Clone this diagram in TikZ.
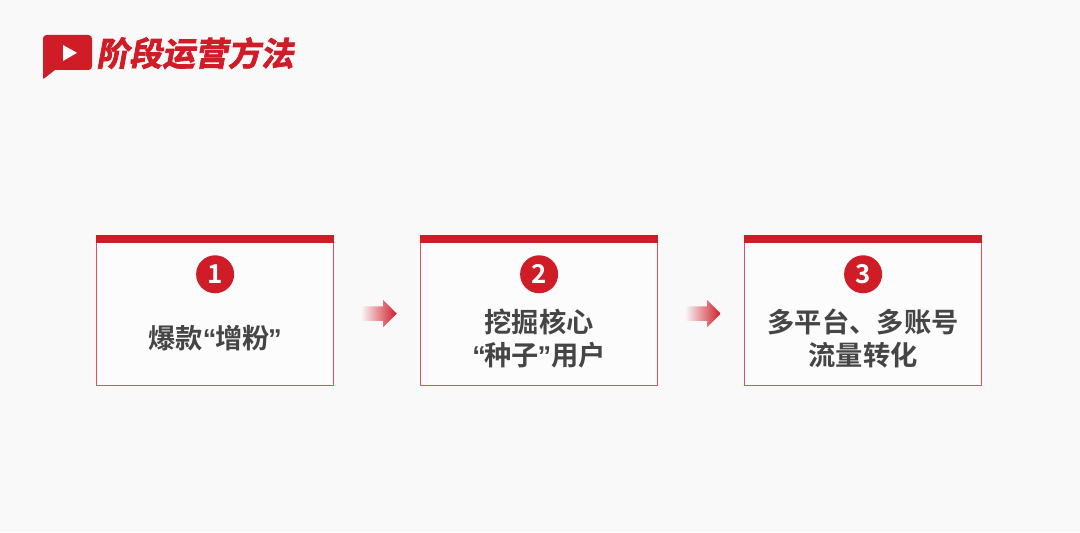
\documentclass[tikz,border=0pt]{standalone}
\usepackage{fontspec}
\newfontfamily\cjk[BoldFont={Noto Sans CJK SC Bold}]{Noto Sans CJK SC}
\newfontfamily\cjkslant[FakeSlant=0.18,FakeBold=2.2]{Noto Sans CJK SC Bold}
\newfontfamily\quotefont{Liberation Sans Bold}
\definecolor{LogoRed}{HTML}{D01C27}
\definecolor{PageGray}{HTML}{F9F9F9}
\definecolor{BoxWhite}{HTML}{FCFCFD}
\definecolor{BoxLine}{HTML}{E2505A}
\definecolor{TextGray}{HTML}{454545}
\newcommand{\qopen}{{\quotefont “}\kern-1pt}
\newcommand{\qclose}{\kern-1pt{\quotefont ”}}
\usetikzlibrary{arrows.meta, positioning, calc, shapes.arrows}
\tikzset{
  stagebox/.style={draw=BoxLine, line width=0.7pt, fill=BoxWhite, minimum width=5.925cm,
    minimum height=3.75cm, outer sep=0pt, inner sep=0pt},
  stagenum/.style={circle, fill=LogoRed, text=white, minimum size=0.95cm, inner sep=0pt,
    font=\cjk\bfseries\fontsize{18.5}{18.5}\selectfont},
  stagetext/.style={text=TextGray, align=center, inner sep=0pt,
    font=\cjk\bfseries\fontsize{19.4}{23.5}\selectfont},
  stagearrow/.style={single arrow, minimum width=0.675cm, minimum height=0.9cm, inner xsep=0pt,
    inner ysep=0.175cm, single arrow head extend=0.16cm, single arrow head indent=0pt, outer sep=0pt,
    left color=PageGray, right color=LogoRed, shading angle=90, draw=none},
}
\begin{document}
\begin{tikzpicture}
  % Page
  \fill[PageGray] (0,0) rectangle (27,13.3);
  \useasboundingbox (0,0) rectangle (27,13.3);
  % Logo
  \fill[LogoRed, rounded corners=2.5pt] (1.075,11.8) -- (1.075,12.425) -- (2.3,12.425)
    -- (2.3,11.55) -- (1.45,11.55) [sharp corners] -- (1.375,11.55) -- (1.09,11.33) -- (1.075,11.36) -- cycle;
  \fill[white] (1.575,12.175) -- (1.925,11.98) -- (1.575,11.775) -- cycle;
  \node[right, inner sep=0pt, text=LogoRed, font=\cjkslant\fontsize{23.4}{23.4}\selectfont]
    (title) at (2.4,11.97) {阶段运营方法};
  % Boxes
  \node[stagebox] (box1) at (5.3775,5.55) {};
  \node[stagebox, right=2.175cm of box1] (box2) {};
  \node[stagebox, right=2.175cm of box2] (box3) {};
  \foreach \b in {box1,box2,box3} {
    \fill[LogoRed] ($(\b.north west)+(-0.01,0.01)$) rectangle ($(\b.north east)+(0.01,-0.2)$);
  }
  % Numbers
  \node[stagenum, below=0.5cm of box1.north] (num1) {1};
  \node[stagenum, below=0.5cm of box2.north] (num2) {2};
  \node[stagenum, below=0.5cm of box3.north] (num3) {3};
  % Labels
  \node[stagetext] (label1) at ($(box1.center)+(0,-0.7)$) {爆款\qopen 增粉\qclose};
  \node[stagetext] (label2) at ($(box2.center)+(0,-0.72)$) {挖掘核心\\\qopen 种子\qclose 用户};
  \node[stagetext] (label3) at ($(box3.center)+(0,-0.72)$) {多平台、多账号\\流量转化};
  % Arrows
  \node[stagearrow, right=0.68cm of box1, yshift=-0.09cm] (arrow1) {};
  \node[stagearrow, right=0.68cm of box2, yshift=-0.09cm] (arrow2) {};
\end{tikzpicture}
\end{document}
